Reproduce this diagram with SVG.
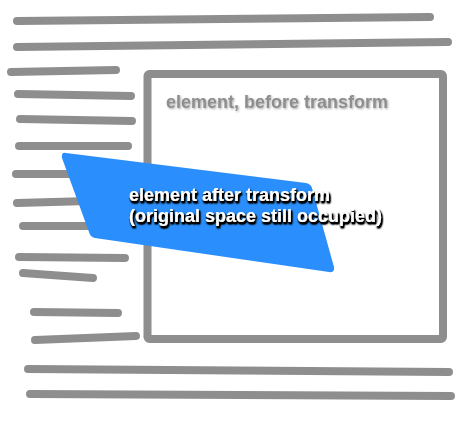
<svg xmlns="http://www.w3.org/2000/svg" width="472" height="421" viewBox="0 0 472 421">
<defs>
<style>
.ln{stroke:#8e8e8e;stroke-width:8;stroke-linecap:round;fill:none}
.lbl{font-family:"Liberation Sans",Arial,Helvetica,sans-serif;font-weight:bold;font-size:18px}
</style>
<filter id="darkShadow" x="-10%" y="-30%" width="120%" height="160%">
<feGaussianBlur in="SourceAlpha" stdDeviation="1.3" result="b"/>
<feOffset dx="1" dy="1.5" result="o"/>
<feComponentTransfer in="o" result="s"><feFuncA type="linear" slope="2.5"/></feComponentTransfer>
<feMerge><feMergeNode in="s"/><feMergeNode in="SourceGraphic"/></feMerge>
</filter>
<filter id="lightShadow" x="-10%" y="-30%" width="120%" height="160%">
<feGaussianBlur in="SourceAlpha" stdDeviation="1.2" result="b"/>
<feOffset dx="0.5" dy="1" result="o"/>
<feComponentTransfer in="o" result="s"><feFuncA type="linear" slope="0.35"/></feComponentTransfer>
<feMerge><feMergeNode in="s"/><feMergeNode in="SourceGraphic"/></feMerge>
</filter>
</defs>
<rect width="472" height="421" fill="#ffffff"/>
<g id="text-lines">
<line class="ln" x1="17" y1="21" x2="430" y2="17"/>
<line class="ln" x1="17" y1="47" x2="448" y2="42"/>
<line class="ln" x1="11" y1="72" x2="116" y2="70"/>
<line class="ln" x1="18" y1="94" x2="131" y2="96"/>
<line class="ln" x1="20" y1="119" x2="132" y2="121"/>
<line class="ln" x1="19" y1="146" x2="128" y2="146"/>
<line class="ln" x1="16" y1="174" x2="125" y2="174"/>
<line class="ln" x1="17" y1="203" x2="125" y2="200"/>
<line class="ln" x1="23" y1="226" x2="125" y2="226"/>
<line class="ln" x1="19" y1="257" x2="125" y2="258"/>
<line class="ln" x1="23" y1="273" x2="93" y2="278"/>
<line class="ln" x1="34" y1="312" x2="118" y2="313"/>
<line class="ln" x1="35" y1="340" x2="136" y2="336"/>
<line class="ln" x1="28" y1="369" x2="449" y2="372"/>
<line class="ln" x1="30" y1="394" x2="451" y2="396"/>
</g>
<g id="original-element">
<rect x="147.5" y="74" width="295.5" height="265" rx="2" fill="none" stroke="#8e8e8e" stroke-width="8"/>
<text class="lbl" x="166" y="108" fill="#8e8e8e" filter="url(#lightShadow)">element, before transform</text>
</g>
<g id="transformed-element">
<path d="M66,153 L306,183 Q311,184 312,188 L334,267 Q335,273 329,272 L95,238 Q90,237 89,232 L62,158 Q61,152 66,153 Z" fill="#2a8ffc"/>
<text class="lbl" x="129" y="201" fill="#ffffff" filter="url(#darkShadow)">element after transform</text>
<text class="lbl" x="129" y="222" fill="#ffffff" filter="url(#darkShadow)">(original space still occupied)</text>
</g>
</svg>
